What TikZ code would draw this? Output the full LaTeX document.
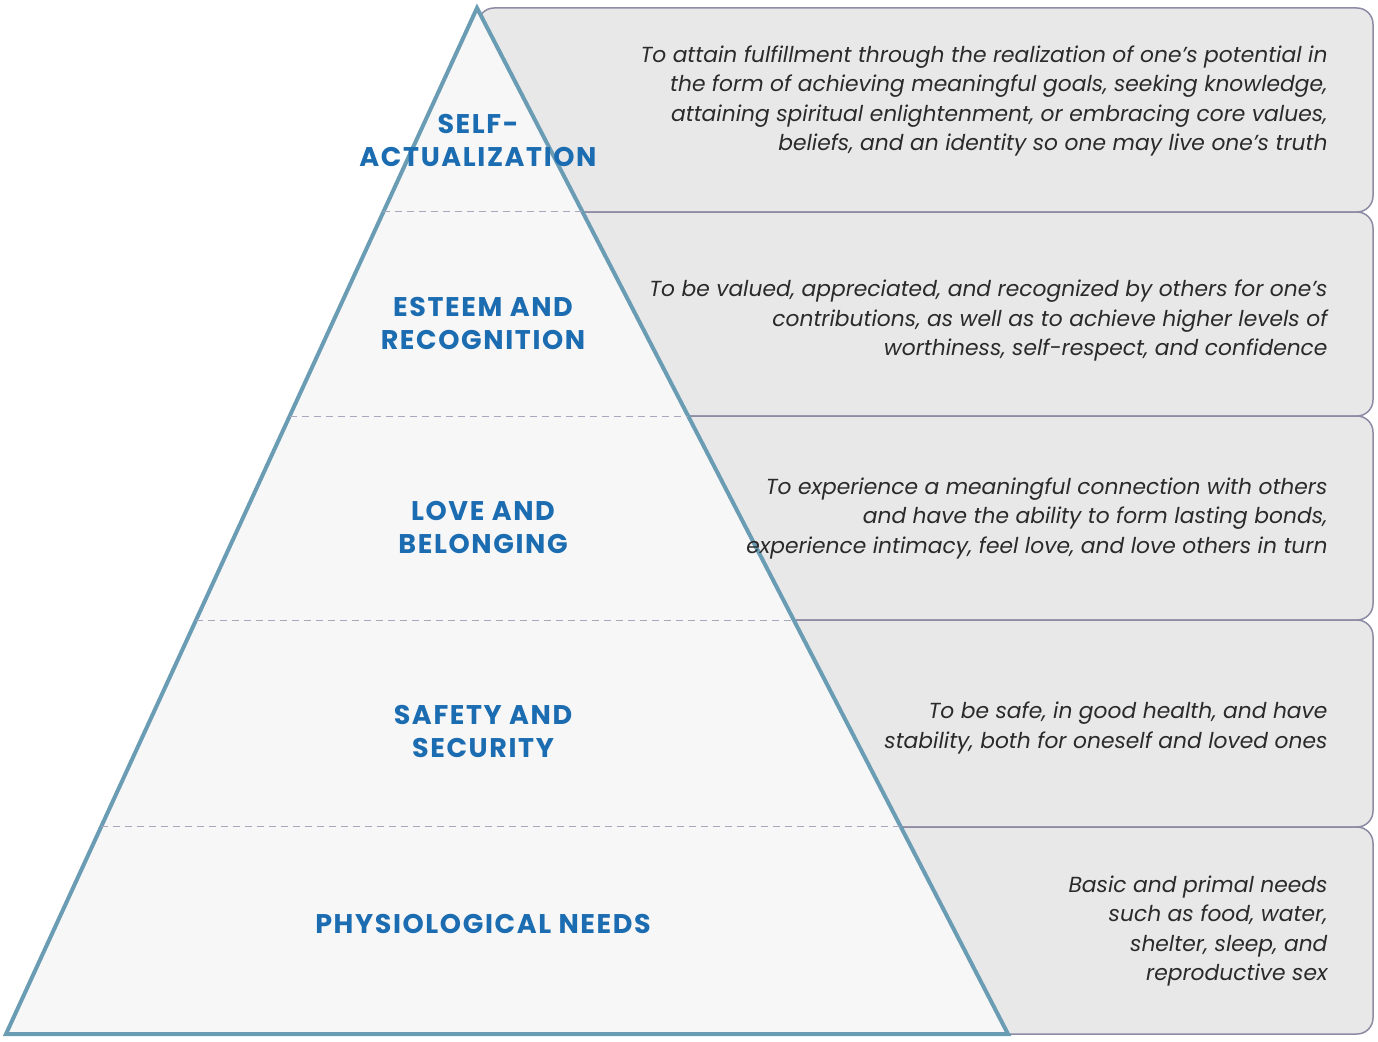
\documentclass[tikz,border=0pt]{standalone}
\usepackage{fontspec}
\setmainfont{Poppins}
\usetikzlibrary{calc}

\definecolor{boxfill}{HTML}{E8E8E9}
\definecolor{boxline}{HTML}{8E8CA4}
\definecolor{pyrfill}{HTML}{F7F7F8}
\definecolor{pyrline}{HTML}{6A9CB4}
\definecolor{sepline}{HTML}{A8A8BC}
\definecolor{levelblue}{HTML}{1B6CB0}
\definecolor{desctext}{HTML}{2A2A2A}

\newcommand{\levelfont}{\fontsize{27}{33}\selectfont\bfseries\addfontfeature{LetterSpace=6}}
\newcommand{\descfont}{\fontsize{21.8}{29.5}\selectfont\itshape}

\begin{document}
\begin{tikzpicture}[x=1pt, y=-1pt]
        \tikzstyle{box} = [draw=boxline, fill=boxfill, line width=1.5pt, rounded corners=16pt]
        \tikzstyle{level} = [font=\levelfont, text=levelblue, align=center]
        \tikzstyle{desc} = [font=\descfont, text=desctext, align=right, anchor=east]
        \tikzstyle{sep} = [draw=sepline, line width=1pt, dash pattern=on 7pt off 5pt]
        \useasboundingbox (0,0) rectangle (1378,1041);
        % boxes behind the pyramid
        \draw[box] (478,8) rectangle (1373,212);
        \draw[box] (478,212) rectangle (1373,416);
        \draw[box] (478,416) rectangle (1373,620);
        \draw[box] (478,620) rectangle (1373,827);
        \draw[box] (478,827) rectangle (1373,1034);
        % pyramid
        \coordinate (apex) at (477,8);
        \coordinate (bl) at (6,1034);
        \coordinate (br) at (1008,1034);
        \draw[fill=pyrfill, draw=pyrline, line width=4pt, line join=miter] (apex) -- (bl) -- (br) -- cycle;
        \draw[sep] ($(apex)!0.1988!(bl)$) -- ($(apex)!0.1988!(br)$);
        \draw[sep] ($(apex)!0.3977!(bl)$) -- ($(apex)!0.3977!(br)$);
        \draw[sep] ($(apex)!0.5965!(bl)$) -- ($(apex)!0.5965!(br)$);
        \draw[sep] ($(apex)!0.7982!(bl)$) -- ($(apex)!0.7982!(br)$);
        % levels
        \node[level] (self) at (478,140) {SELF-\\ACTUALIZATION};
        \node[level] (esteem) at (483,323) {ESTEEM AND\\RECOGNITION};
        \node[level] (love) at (483,527) {LOVE AND\\BELONGING};
        \node[level] (safety) at (483,731) {SAFETY AND\\SECURITY};
        \node[level] (phys) at (483,924) {PHYSIOLOGICAL NEEDS};
        % descriptions
        \node[desc] (selfdesc) at (1331,101) {To attain fulfillment through the realization of one’s potential in\\the form of achieving meaningful goals, seeking knowledge,\\attaining spiritual enlightenment, or embracing core values,\\beliefs, and an identity so one may live one’s truth};
        \node[desc] (esteemdesc) at (1331,321) {To be valued, appreciated, and recognized by others for one’s\\contributions, as well as to achieve higher levels of\\worthiness, self-respect, and confidence};
        \node[desc] (lovedesc) at (1331,518) {To experience a meaningful connection with others\\and have the ability to form lasting bonds,\\experience intimacy, feel love, and love others in turn};
        \node[desc] (safetydesc) at (1331,728) {To be safe, in good health, and have\\stability, both for oneself and loved ones};
        \node[desc] (physdesc) at (1331,931) {Basic and primal needs\\such as food, water,\\shelter, sleep, and\\reproductive sex};
\end{tikzpicture}
\end{document}
